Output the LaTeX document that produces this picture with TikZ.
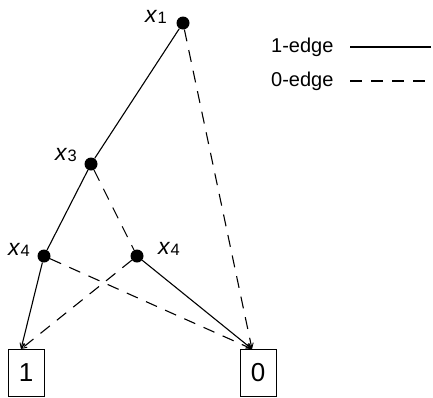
\documentclass[tikz,border=0pt]{standalone}
\usepackage{fontspec}
\setmainfont{Liberation Sans}
\usetikzlibrary{arrows.meta}
\newcommand{\varlab}[1]{{\fontsize{23}{23}\selectfont\textit{x}}\kern0.3pt\raisebox{-0.3ex}{\fontsize{16.5}{16.5}\selectfont #1}}
\begin{document}
\begin{tikzpicture}[x=1pt,y=-1pt,
  vertex/.style={circle,fill=black,inner sep=0pt,minimum size=13pt},
  term/.style={draw,line width=0.9pt,minimum width=36pt,minimum height=47pt,inner sep=0pt,font=\fontsize{26}{26}\selectfont},
  lab/.style={font=\fontsize{20}{20}\selectfont},
  oneedge/.style={line width=1.1pt},
  zeroedge/.style={line width=1.1pt,dash pattern=on 12pt off 9pt},
  tip/.style={-{Straight Barb[length=5pt,width=5pt,line width=0.9pt]}}]
\useasboundingbox (0,0) rectangle (433,397);
% decision nodes
\node[vertex] (v1) at (183,23) {};
\node[vertex] (v3) at (91,164) {};
\node[vertex] (v4a) at (44,256) {};
\node[vertex] (v4b) at (137,256) {};
\node[inner sep=0pt] (n1) at (156,17) {\varlab{1}};
\node[inner sep=0pt] (n3) at (66,155) {\varlab{3}};
\node[inner sep=0pt] (n4a) at (19,250) {\varlab{4}};
\node[inner sep=0pt] (n4b) at (169,249) {\varlab{4}};
% terminal boxes
\node[term] (t1) at (26,372.5) {1};
\node[term] (t0) at (258,372.5) {0};
\coordinate (in1) at (21,349);
\coordinate (in0) at (252,349);
% 1-edges
\draw[oneedge] (v1) -- (v3);
\draw[oneedge] (v3) -- (v4a);
\draw[oneedge,tip] (v4a) -- (in1);
\draw[oneedge,tip] (v4b) -- (in0);
% 0-edges
\draw[zeroedge,tip] (v1) -- (in0);
\draw[zeroedge] (v3) -- (v4b);
\draw[zeroedge,tip] (v4a) -- (in0);
\draw[zeroedge,tip] (v4b) -- (in1);
% legend
\node[lab,anchor=east] (l1) at (337,47) {1-edge};
\node[lab,anchor=east] (l0) at (337,81) {0-edge};
\coordinate (s1) at (350,47);
\coordinate (e1) at (431,47);
\coordinate (s0) at (350,81);
\coordinate (e0) at (433,81);
\draw[oneedge] (s1) -- (e1);
\draw[zeroedge] (s0) -- (e0);
\end{tikzpicture}
\end{document}
